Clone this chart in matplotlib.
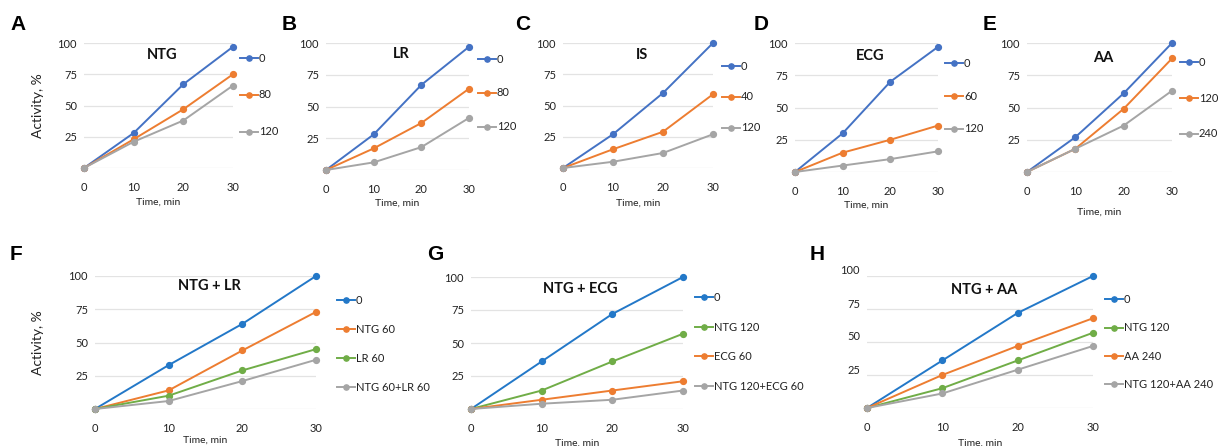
import matplotlib
matplotlib.use("Agg")
import matplotlib.pyplot as plt
import matplotlib.transforms as mtransforms

plt.rcParams['font.family'] = ['Lato', 'DejaVu Sans']

W, H = 1227, 446
time = [0, 10, 20, 30]

BLUE = '#4472C4'
BLUE2 = '#2378C8'
ORANGE = '#ED7D31'
GRAY = '#A5A5A5'
GREEN = '#70AD47'

# ---- data (activity %) ----
ntg_0 = [0, 28, 67, 97]
ntg_80 = [0, 23, 47, 75]
ntg_120 = [0, 21, 38, 66]

lr_0 = [0, 28, 67, 97]
lr_80 = [0, 17, 37, 64]
lr_120 = [0, 6, 18, 41]

is_0 = [0, 27, 60, 100]
is_40 = [0, 15, 29, 59]
is_120 = [0, 5, 12, 27]

ecg_0 = [0, 30, 70, 97]
ecg_60 = [0, 15, 25, 36]
ecg_120 = [0, 5, 10, 16]

aa_0 = [0, 27, 61, 100]
aa_120 = [0, 18, 49, 88]
aa_240 = [0, 18, 36, 63]

f_0 = [0, 33, 64, 100]
f_ntg60 = [0, 14, 44, 73]
f_lr60 = [0, 10, 29, 45]
f_comb = [0, 6, 21, 37]

g_0 = [0, 36, 72, 100]
g_ntg120 = [0, 14, 36, 57]
g_ecg60 = [0, 7, 14, 21]
g_comb = [0, 4, 7, 14]

h_0 = [0, 36, 72, 100]
h_aa240 = [0, 25, 47, 68]
h_ntg120 = [0, 15, 36, 57]
h_comb = [0, 11, 29, 47]

panels = [
    dict(letter='A', title='NTG',
         series=[('0', ntg_0, BLUE), ('80', ntg_80, ORANGE), ('120', ntg_120, GRAY)],
         box=(84, 233, 43, 168), leg=(240, 95, 37), ylabel=True, title_y=55, xlab_y=202, letter_xy=(10, 25)),
    dict(letter='B', title='LR',
         series=[('0', lr_0, BLUE), ('80', lr_80, ORANGE), ('120', lr_120, GRAY)],
         box=(326, 469, 43, 170), leg=(478, 93, 34), ylabel=False, title_y=54, xlab_y=203, letter_xy=(282, 25)),
    dict(letter='C', title='IS',
         series=[('0', is_0, BLUE), ('40', is_40, ORANGE), ('120', is_120, GRAY)],
         box=(563, 713, 43, 168), leg=(722, 97, 31), ylabel=False, title_y=55, xlab_y=203, letter_xy=(515, 25)),
    dict(letter='D', title='ECG',
         series=[('0', ecg_0, BLUE), ('60', ecg_60, ORANGE), ('120', ecg_120, GRAY)],
         box=(795, 938, 43, 172), leg=(945, 96, 33), ylabel=False, title_y=56, xlab_y=205, letter_xy=(754, 25)),
    dict(letter='E', title='AA',
         series=[('0', aa_0, BLUE), ('120', aa_120, ORANGE), ('240', aa_240, GRAY)],
         box=(1027, 1172, 43, 172), leg=(1180, 98, 36), ylabel=False, title_y=58, xlab_y=212, letter_xy=(983, 25)),
    dict(letter='F', title='NTG + LR',
         series=[('0', f_0, BLUE2), ('NTG 60', f_ntg60, ORANGE), ('LR 60', f_lr60, GREEN),
                 ('NTG 60+LR 60', f_comb, GRAY)],
         box=(95, 316, 276, 409), leg=(337, 344, 29), ylabel=True, title_y=286, xlab_y=440, letter_xy=(10, 255)),
    dict(letter='G', title='NTG + ECG',
         series=[('0', g_0, BLUE2), ('NTG 120', g_ntg120, GREEN), ('ECG 60', g_ecg60, ORANGE),
                 ('NTG 120+ECG 60', g_comb, GRAY)],
         box=(471, 683, 277, 409), leg=(695, 342, 29.7), ylabel=False, title_y=289, xlab_y=443, letter_xy=(427, 255)),
    dict(letter='H', title='NTG + AA',
         series=[('0', h_0, BLUE2), ('NTG 120', h_ntg120, GREEN), ('AA 240', h_aa240, ORANGE),
                 ('NTG 120+AA 240', h_comb, GRAY)],
         box=(867, 1093, 276, 408), leg=(1105, 342, 28.3), ylabel=False, title_y=290, xlab_y=443, letter_xy=(810, 255),
         ytick_shift=6),
]

fig = plt.figure(figsize=(W / 100, H / 100), dpi=100)
fig.patch.set_facecolor('white')

FS_TICK = 8
FS_LEG = 8

for p in panels:
    x0, x30, y100, y0 = p['box']
    ax = fig.add_axes([x0 / W, 1 - y0 / H, (x30 - x0) / W, (y0 - y100) / H])
    for label, vals, col in p['series']:
        ax.plot(time, vals, color=col, lw=1.4, marker='o', ms=4.2, label=label, clip_on=False, zorder=3)
    ax.set_xlim(0, 30)
    ax.set_ylim(0, 100)
    ax.set_xticks(time)
    ax.set_xticklabels([str(t) for t in time])
    ax.set_yticks([0, 25, 50, 75, 100])
    ax.set_yticklabels(['', '25', '50', '75', '100'])
    ax.grid(axis='y', color='#E3E3E3', lw=0.9, zorder=0)
    ax.tick_params(length=0, labelsize=FS_TICK, colors='#222222')
    ax.tick_params(axis='x', pad=10)
    ax.tick_params(axis='y', pad=5)
    for s in ax.spines.values():
        s.set_visible(False)
    shift = p.get('ytick_shift', 0)
    if shift:
        off = mtransforms.ScaledTranslation(0, shift / 100, fig.dpi_scale_trans)
        for lab in ax.get_yticklabels():
            lab.set_transform(lab.get_transform() + off)
    # title
    fig.text((x0 + x30) / 2 / W + 0.003, 1 - p['title_y'] / H, p['title'], ha='center', va='center',
             fontsize=10.5, fontweight='bold', color='#111111')
    # x label
    fig.text((x0 + x30) / 2 / W, 1 - p['xlab_y'] / H, 'Time, min', ha='center', va='center',
             fontsize=7.5, color='#222222')
    if p['ylabel']:
        fig.text(38 / W, 1 - ((y100 + y0) / 2) / H, 'Activity, %', rotation=90, ha='center', va='center',
                 fontsize=10, color='#222222')
    # panel letter
    lx, ly = p['letter_xy']
    fig.text(lx / W, 1 - ly / H, p['letter'], ha='left', va='center', fontsize=15, fontweight='bold',
             family=['Liberation Sans', 'DejaVu Sans'], color='black')
    # legend
    lgx, lgy, sp = p['leg']
    fs_px = FS_LEG * 100 / 72
    leg = ax.legend(loc='center left', bbox_to_anchor=(lgx / W, 1 - lgy / H), bbox_transform=fig.transFigure,
                    frameon=False, fontsize=FS_LEG, handlelength=1.6, handletextpad=0.1, borderpad=0,
                    borderaxespad=0, labelspacing=(sp - fs_px * 1.0) / fs_px, markerscale=0.9)
    for t in leg.get_texts():
        t.set_color('#222222')

fig.savefig('out.png', dpi=100, facecolor='white')
